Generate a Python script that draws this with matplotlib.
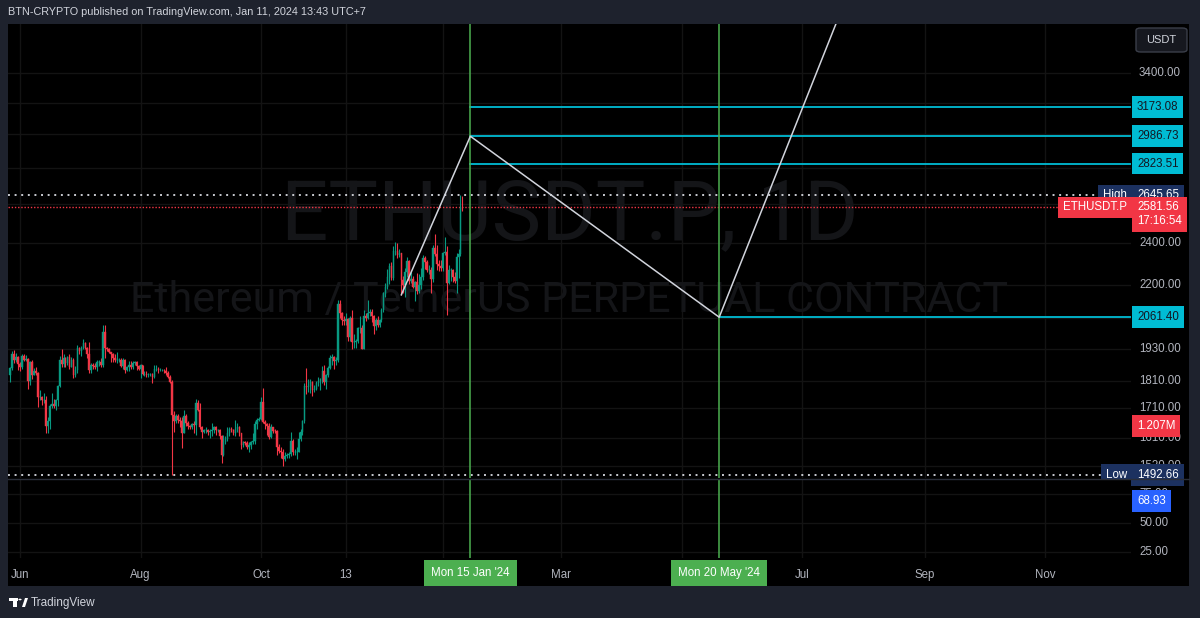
import matplotlib
matplotlib.use('Agg')
import matplotlib.pyplot as plt
import matplotlib.dates as mdates
from matplotlib.patches import Rectangle, FancyBboxPatch, Polygon, Circle
import numpy as np
import pandas as pd

# ---- data: ETHUSDT.P daily candles, 27 May 2023 .. 11 Jan 2024 ----
first_day = '2023-05-27'
first_open = 1830
close = [1857, 1910, 1890, 1900, 1872,
         1862, 1905, 1890, 1893, 1810, 1880, 1832, 1848, 1840, 1752,
         1752, 1740, 1740, 1650, 1665, 1718, 1725, 1720, 1738, 1790,
         1890, 1872, 1895, 1875, 1900, 1860, 1890, 1830, 1850, 1935,
         1925, 1935, 1955, 1935, 1910, 1850, 1870, 1865, 1860, 1880,
         1880, 1870, 2000, 1935, 1930, 1920, 1910, 1895, 1890, 1890,
         1890, 1865, 1890, 1850, 1860, 1870, 1860, 1875, 1880, 1865, 1855,
         1870, 1835, 1835, 1830, 1835, 1835, 1825, 1855, 1855, 1850,
         1850, 1850, 1845, 1840, 1825, 1806, 1686, 1665, 1682, 1670,
         1665, 1625, 1685, 1660, 1650, 1645, 1655, 1652, 1730, 1705, 1645,
         1630, 1635, 1635, 1630, 1632, 1635, 1645, 1635, 1635, 1615,
         1555, 1595, 1605, 1625, 1640, 1635, 1625, 1640, 1645, 1625,
         1585, 1595, 1592, 1580, 1585, 1595, 1600, 1655, 1670, 1672,
         1732, 1664, 1656, 1648, 1612, 1645, 1634, 1633, 1580, 1568,
         1565, 1540, 1552, 1555, 1558, 1600, 1565, 1565, 1565, 1605,
         1630, 1665, 1790, 1785, 1790, 1805, 1775, 1780, 1800, 1810, 1815,
         1845, 1805, 1832, 1858, 1895, 1900, 1885, 1890, 2120, 2080,
         2050, 2045, 2055, 1980, 2060, 1960, 1960, 1965, 2015, 2015,
         1930, 2065, 2060, 2080, 2085, 2065, 2025, 2050, 2030, 2050,
         2090, 2165, 2195, 2240, 2290, 2235, 2360, 2360, 2340, 2350,
         2225, 2200, 2260, 2315, 2220, 2230, 2195, 2215, 2175, 2200,
         2240, 2325, 2310, 2270, 2270, 2230, 2375, 2345, 2300, 2290, 2280,
         2350, 2355, 2210, 2270, 2270, 2240, 2220, 2330, 2345, 2585, 2581.56]
high = [1862, 1925, 1928, 1915, 1905,
        1880, 1910, 1910, 1908, 1895, 1885, 1890, 1858, 1862, 1842,
        1775, 1755, 1765, 1755, 1680, 1725, 1765, 1745, 1745, 1795,
        1905, 1930, 1910, 1900, 1905, 1910, 1900, 1895, 1865, 1946,
        1940, 1945, 1970, 1960, 1940, 1960, 1875, 1875, 1875, 1890,
        1890, 1895, 2029, 2029, 1940, 1935, 1920, 1915, 1910, 1920,
        1895, 1895, 1895, 1892, 1865, 1885, 1885, 1885, 1885, 1885, 1870,
        1872, 1870, 1845, 1845, 1840, 1840, 1840, 1870, 1868, 1860,
        1856, 1855, 1855, 1860, 1845, 1830, 1812, 1700, 1690, 1690,
        1680, 1680, 1705, 1690, 1665, 1652, 1660, 1665, 1745, 1740, 1730,
        1650, 1640, 1645, 1640, 1640, 1660, 1650, 1650, 1640, 1640,
        1620, 1620, 1615, 1645, 1645, 1645, 1640, 1669, 1660, 1650,
        1625, 1600, 1600, 1600, 1595, 1600, 1625, 1665, 1675, 1680,
        1750, 1782, 1670, 1660, 1660, 1655, 1640, 1640, 1635, 1590,
        1580, 1575, 1565, 1560, 1565, 1630, 1605, 1575, 1580, 1630,
        1640, 1670, 1800, 1858, 1815, 1815, 1810, 1795, 1810, 1825, 1820,
        1865, 1870, 1835, 1865, 1908, 1910, 1905, 1900, 2136, 2136,
        2085, 2065, 2080, 2060, 2065, 2090, 1990, 1970, 2020, 2065,
        2030, 2090, 2080, 2135, 2095, 2095, 2070, 2060, 2065, 2055,
        2100, 2170, 2210, 2275, 2305, 2310, 2385, 2405, 2400, 2370,
        2350, 2245, 2280, 2330, 2320, 2260, 2245, 2220, 2255, 2250,
        2280, 2340, 2335, 2320, 2295, 2285, 2390, 2445, 2390, 2320, 2320,
        2355, 2430, 2385, 2295, 2280, 2275, 2260, 2350, 2370, 2645.65, 2640]
low = [1805, 1850, 1875, 1880, 1850,
       1845, 1855, 1885, 1885, 1780, 1795, 1815, 1830, 1830, 1714,
       1740, 1723, 1730, 1626, 1626, 1640, 1710, 1712, 1705, 1720,
       1785, 1860, 1860, 1860, 1870, 1855, 1860, 1820, 1825, 1840,
       1910, 1905, 1930, 1930, 1895, 1840, 1840, 1855, 1855, 1845,
       1865, 1860, 1862, 1895, 1925, 1915, 1880, 1880, 1880, 1875,
       1880, 1860, 1855, 1840, 1845, 1845, 1855, 1855, 1868, 1850, 1850,
       1820, 1830, 1828, 1825, 1825, 1828, 1800, 1820, 1845, 1840,
       1845, 1845, 1840, 1830, 1820, 1800, 1492.66, 1630, 1660, 1660,
       1645, 1576, 1625, 1650, 1640, 1640, 1640, 1625, 1620, 1700, 1640,
       1610, 1625, 1625, 1620, 1610, 1615, 1625, 1620, 1630, 1605,
       1530, 1550, 1590, 1600, 1615, 1630, 1620, 1615, 1630, 1615,
       1575, 1580, 1585, 1575, 1565, 1575, 1590, 1590, 1640, 1665,
       1670, 1660, 1640, 1620, 1605, 1610, 1625, 1625, 1555, 1560,
       1545, 1521, 1535, 1545, 1545, 1550, 1555, 1555, 1540, 1565,
       1600, 1620, 1660, 1760, 1770, 1765, 1755, 1770, 1775, 1790, 1775,
       1800, 1795, 1780, 1825, 1855, 1870, 1855, 1870, 1880, 2060,
       2030, 2030, 2030, 1965, 1965, 1930, 1935, 1935, 1955, 1995,
       1930, 1930, 2045, 2055, 2065, 2040, 1990, 2010, 2020, 2020,
       2040, 2085, 2150, 2185, 2205, 2225, 2225, 2340, 2325, 2330,
       2157, 2165, 2150, 2240, 2205, 2210, 2190, 2130, 2160, 2165,
       2185, 2225, 2275, 2260, 2250, 2165, 2215, 2335, 2270, 2265, 2265,
       2265, 2340, 2071, 2205, 2220, 2215, 2210, 2165, 2235, 2335, 2562]

# drawings
levels = [3173.08, 2986.73, 2823.51]
level_start = '2024-01-15'
support = 2061.40
support_start = '2024-05-20'
path_dates = ['2023-12-11', '2024-01-15', '2024-05-20', '2024-08-08']
path_prices = [2157, 2986.73, 2061.40, 4650]
vline_dates = ['2024-01-15', '2024-05-20']
vline_labels = ["Mon 15 Jan '24", "Mon 20 May '24"]

high_val = 2645.65
low_val = 1492.66
last_price = 2581.56
countdown = '17:16:54'
volume_text = '1.207M'
osc_value = 68.93

grid_prices = [3400, 3200, 3000, 2800, 2600, 2400, 2200, 2060, 1930, 1810, 1710, 1610, 1520]
price_labels = [3400, 3200, 2400, 2200, 1930, 1810, 1710, 1610, 1520]
osc_ticks = [75, 50, 25]
time_ticks = ['2023-06-01', '2023-08-01', '2023-10-01', '2023-11-13', '2024-01-01',
              '2024-03-01', '2024-05-01', '2024-07-01', '2024-09-01', '2024-11-01']
time_labels = ['Jun', 'Aug', 'Oct', '13', '', 'Mar', 'May', 'Jul', 'Sep', 'Nov']

# ---- style ----
W, H = 1200, 618
FRAME = '#1e222d'
UP, DOWN = '#089981', '#f23645'
GRID = '#131313'
TXT = '#b2b5be'
CYAN = '#00bcd4'
GREEN = '#4caf50'
NAVY = '#1c3160'
plt.rcParams['font.family'] = ['Liberation Sans', 'DejaVu Sans']

def fx(px):
    return px / W

def fy(py):
    return 1 - py / H

fig = plt.figure(figsize=(W / 100, H / 100), dpi=100, facecolor=FRAME)
fig.patches.append(Rectangle((fx(8), fy(586)), fx(1189) - fx(8), fy(24) - fy(586),
                             transform=fig.transFigure, fc='black', ec='none', zorder=-5))

ax = fig.add_axes([fx(8), fy(478), fx(1131) - fx(8), fy(24) - fy(478)])
ax2 = fig.add_axes([fx(8), fy(558), fx(1131) - fx(8), fy(479) - fy(558)], sharex=ax)
for a in (ax, ax2):
    a.set_facecolor('black')
    for s in a.spines.values():
        s.set_visible(False)
    a.tick_params(length=0)

oct1 = mdates.date2num(pd.Timestamp('2023-10-01'))
ax.set_xlim(oct1 + (8 - 261) / 1.975, oct1 + (1131 - 261) / 1.975)
ax.set_yscale('log')
ax.set_ylim(1482.7, 3759)
ax2.set_ylim(19.8, 87.9)
ax.yaxis.set_major_locator(plt.NullLocator())
ax.yaxis.set_minor_locator(plt.NullLocator())
ax2.set_yticks([])
ax.tick_params(labelbottom=False)

# grid
tick_x = mdates.date2num(pd.to_datetime(time_ticks))
for t in tick_x:
    ax.axvline(t, color=GRID, lw=1, zorder=0)
    ax2.axvline(t, color=GRID, lw=1, zorder=0)
for p in grid_prices:
    ax.axhline(p, color=GRID, lw=1, zorder=0)
for p in osc_ticks:
    ax2.axhline(p, color=GRID, lw=1, zorder=0)

ax2.set_xticks(tick_x)
ax2.set_xticklabels(time_labels, color=TXT, fontsize=8.3)
ax2.tick_params(axis='x', pad=8)

# watermark
ax.text(0.5, 0.577, 'ETHUSDT.P, 1D', transform=ax.transAxes, ha='center', va='center',
        fontsize=60, color='#141518', family='Roboto', zorder=0.5)
ax.text(0.5, 0.392, 'Ethereum / TetherUS PERPETUAL CONTRACT', transform=ax.transAxes,
        ha='center', va='center', fontsize=31, color='#141518', family='Roboto', zorder=0.5)

# candles
days = pd.date_range(first_day, periods=len(close), freq='D')
x = mdates.date2num(days)
c = np.array(close, dtype=float)
o = np.array([first_open] + close[:-1], dtype=float)
col = np.where(c >= o, UP, DOWN)
ax.vlines(x, low, high, colors=col, lw=0.8, zorder=3)
ax.bar(x, c - o, bottom=o, width=0.72, color=col, edgecolor=col, linewidth=0.3, zorder=3)

# horizontal references
xr = ax.get_xlim()[1]
ax.axhline(high_val, xmin=0, xmax=(1101 - 8) / 1123, color='#c8cad0', lw=1.4,
           ls=(0, (1, 2.4)), zorder=2)
ax.axhline(low_val, xmin=0, xmax=(1101 - 8) / 1123, color='#c8cad0', lw=1.4,
           ls=(0, (1, 2.4)), zorder=2)
ax.axhline(last_price, xmin=0, xmax=(1068 - 8) / 1123, color=DOWN, lw=1.0,
           ls=(0, (1, 1.3)), zorder=2)

lx = mdates.date2num(pd.Timestamp(level_start))
for lv in levels:
    ax.plot([lx, xr], [lv, lv], color=CYAN, lw=1.3, zorder=4)
sx = mdates.date2num(pd.Timestamp(support_start))
ax.plot([sx, xr], [support, support], color=CYAN, lw=1.3, zorder=4)

ax.plot(mdates.date2num(pd.to_datetime(path_dates)), path_prices, color='#d1d4dc',
        lw=1.1, zorder=5, solid_capstyle='round')

for d in vline_dates:
    v = mdates.date2num(pd.Timestamp(d))
    ax.axvline(v, color=GREEN, lw=1.1, zorder=4)
    ax2.axvline(v, color=GREEN, lw=1.1, zorder=4)

# price scale labels
def scale_text(a, y, s):
    a.annotate(s, xy=(1, y), xycoords=('axes fraction', 'data'), xytext=(8, 0),
               textcoords='offset pixels', ha='left', va='center', fontsize=8.3,
               color=TXT, zorder=6, annotation_clip=False)

def scale_box(a, y, s, fc, tc, dx=4, dy=0, ha='left'):
    a.annotate(s, xy=(1, y), xycoords=('axes fraction', 'data'), xytext=(dx, dy),
               textcoords='offset pixels', ha=ha, va='center', fontsize=8.3,
               color=tc, zorder=8, annotation_clip=False, linespacing=1.2,
               bbox=dict(boxstyle='square,pad=0.42', fc=fc, ec='none'))

for p in price_labels:
    scale_text(ax, p, '%.2f' % p)
for p in osc_ticks:
    scale_text(ax2, p, '%.2f' % p)
for lv in levels + [support]:
    scale_box(ax, lv, '%.2f' % lv, CYAN, '#131722', dx=6)
scale_box(ax, high_val, '%.2f' % high_val, NAVY, 'white', dx=6)
scale_box(ax, high_val, 'High', NAVY, 'white', dx=-4, ha='right')
scale_box(ax, low_val, '%.2f' % low_val, NAVY, 'white', dx=6)
scale_box(ax, low_val, 'Low', NAVY, 'white', dx=-4, ha='right')
scale_box(ax, last_price, 'ETHUSDT.P', DOWN, 'white', dx=-4, ha='right')
scale_box(ax, last_price, '%.2f\n%s' % (last_price, countdown), DOWN, 'white', dx=6, dy=-7)
scale_box(ax, 1650, volume_text, DOWN, 'white', dx=6)
scale_box(ax2, osc_value, '%.2f' % osc_value, '#2962ff', 'white', dx=6)

# date boxes on time axis
for d, lab in zip(vline_dates, vline_labels):
    ax2.annotate(lab, xy=(mdates.date2num(pd.Timestamp(d)), 0),
                 xycoords=('data', 'axes fraction'), xytext=(0, -15),
                 textcoords='offset pixels', ha='center', va='center', fontsize=8.3,
                 color='white', zorder=8, annotation_clip=False,
                 bbox=dict(boxstyle='square,pad=0.6', fc=GREEN, ec='none'))

# pane separators
fig.add_artist(plt.Line2D([fx(8), fx(1189)], [fy(478.5), fy(478.5)], color='#2a2e39', lw=1))

# currency button
fig.patches.append(FancyBboxPatch((fx(1136), fy(52)), fx(51), fy(0) - fy(24),
                                  boxstyle='round,pad=0,rounding_size=0.004',
                                  transform=fig.transFigure, fc='#16181f', ec='#3a3e49', lw=1))
fig.text(fx(1161.5), fy(40), 'USDT', ha='center', va='center', fontsize=8, color='#d1d4dc')

# header and footer
fig.text(fx(8), fy(12), 'BTN-CRYPTO published on TradingView.com, Jan 11, 2024 13:43 UTC+7',
         ha='left', va='center', fontsize=7.8, color='#d1d4dc')
fig.patches.append(Rectangle((fx(9), fy(601)), fx(9), fy(0) - fy(3), transform=fig.transFigure,
                             fc='white', ec='none'))
fig.patches.append(Rectangle((fx(13), fy(607)), fx(4), fy(0) - fy(9), transform=fig.transFigure,
                             fc='white', ec='none'))
fig.patches.append(Circle((fx(20), fy(599.5)), fx(1.6), transform=fig.transFigure, fc='white'))
fig.patches.append(Polygon([(fx(22), fy(607)), (fx(25), fy(598)), (fx(28), fy(598)),
                            (fx(25), fy(607))], transform=fig.transFigure, fc='white'))
fig.text(fx(31), fy(603), 'TradingView', ha='left', va='center', fontsize=8.5, color='#d1d4dc')

fig.savefig('out.png', dpi=100, facecolor=FRAME)
